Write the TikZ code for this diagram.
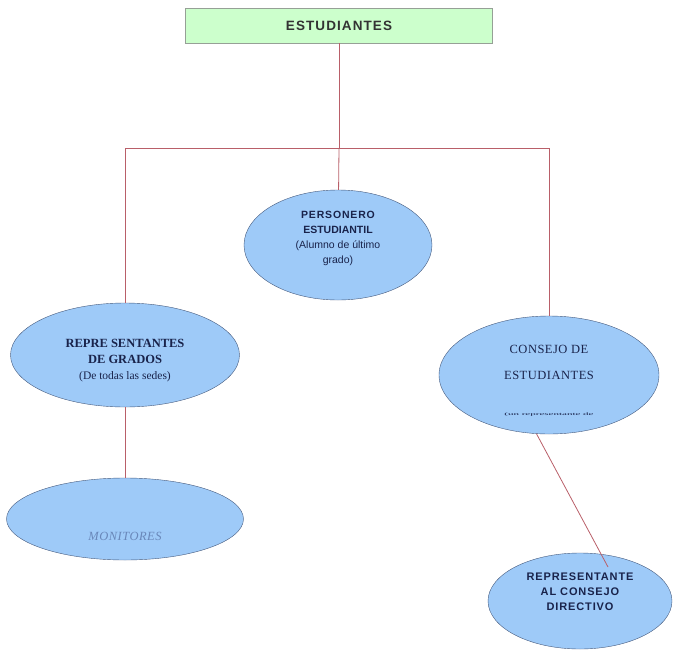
\documentclass[tikz,border=0pt]{standalone}
\usepackage{fontspec}
\setmainfont{Liberation Serif}
\setsansfont{Liberation Sans}
\newfontfamily\spacedsans[LetterSpace=8]{Liberation Sans}
\newfontfamily\spacedserif[LetterSpace=4]{Liberation Serif}
\usetikzlibrary{shapes.geometric}
\definecolor{boxfill}{RGB}{204,255,204}
\definecolor{boxline}{RGB}{150,160,150}
\definecolor{ovalfill}{RGB}{158,202,248}
\definecolor{ovalline}{RGB}{70,90,125}
\definecolor{linkcol}{RGB}{185,95,105}
\definecolor{ovaltext}{RGB}{25,35,75}
\definecolor{montext}{RGB}{105,135,185}
\tikzset{
headbox/.style={
  rectangle, draw=boxline, fill=boxfill,
  minimum width=307pt, minimum height=35pt,
  font=\spacedsans\bfseries\fontsize{13.5}{15}\selectfont, text=black!80
},
oval/.style={
  ellipse, draw=ovalline, fill=ovalfill, inner sep=0pt,
  align=center, text=ovaltext
},
link/.style={draw=linkcol, line width=0.8pt}
}

\begin{document}
\begin{tikzpicture}[x=1pt,y=-1pt]
\useasboundingbox (0,0) rectangle (673,651);
\node[headbox] (est) at (339,25.5) {ESTUDIANTES};
\node[oval, minimum width=188pt, minimum height=110pt, text depth=16pt,
  font=\sffamily\fontsize{10.5}{15}\selectfont] (pers) at (338,245)
  {{\spacedsans\bfseries PERSONERO}\\{\bfseries ESTUDIANTIL}\\(Alumno de último\\grado)};
\node[oval, minimum width=229pt, minimum height=104pt, text height=52pt,
  font=\rmfamily\fontsize{12.5}{16}\selectfont] (repg) at (125,355)
  {{\bfseries REPRE SENTANTES}\\{\bfseries DE GRADOS}\\{\fontsize{11.5}{14}\selectfont(De todas las sedes)}};
\node[oval, minimum width=237pt, minimum height=82pt, text height=44pt,
  font=\spacedserif\itshape\fontsize{12.5}{13}\selectfont, text=montext] (mon) at (125,519)
  {MONITORES};
\node[oval, minimum width=220pt, minimum height=118pt, text height=82pt,
  font=\spacedserif\fontsize{12.5}{26}\selectfont] (cons) at (549,375)
  {CONSEJO DE\\ESTUDIANTES\\[10pt]{\scalebox{1}[0.35]{\rmfamily\fontsize{11}{12}\selectfont (un representante de}}};
\node[oval, minimum width=184pt, minimum height=96pt,
  font=\spacedsans\bfseries\fontsize{11}{15}\selectfont] (rcd) at (580,601)
  {REPRESENTANTE\\AL CONSEJO\\DIRECTIVO\\[4pt]};
% the connectors
\coordinate (bus-l) at (125,148);
\coordinate (bus-r) at (549,148);
\coordinate (bus-c) at (est.south |- bus-l);
\coordinate (rcd-tip) at (608,567);
\draw[link] (est) -- (bus-c);
\draw[link] (bus-l) -- (bus-r);
\draw[link] (bus-c) -- (pers);
\draw[link] (bus-l) -- (repg);
\draw[link] (bus-r) -- (cons);
\draw[link] (repg) -- (mon);
\draw[link] (cons.258) -- (rcd-tip);
\end{tikzpicture}
\end{document}
